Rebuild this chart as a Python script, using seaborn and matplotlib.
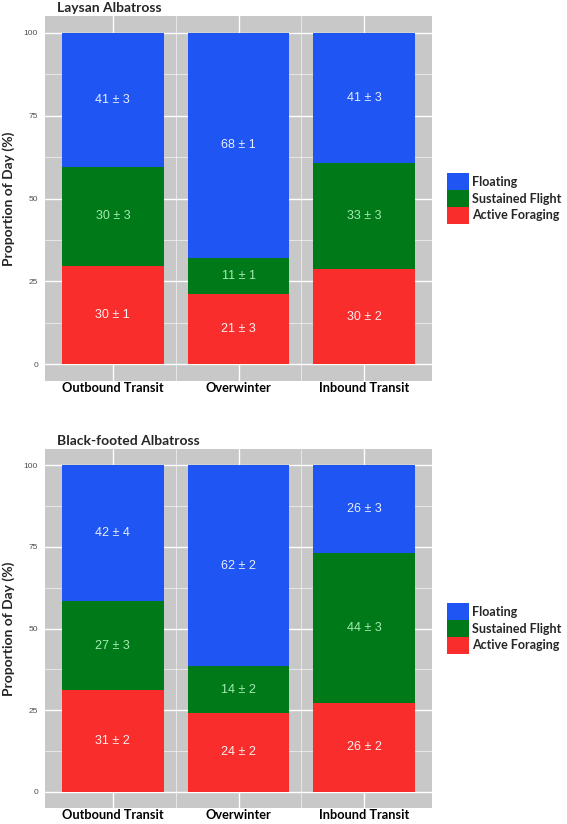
import matplotlib.pyplot as plt
import numpy as np
import pandas as pd
import seaborn as sns
from matplotlib.patches import Patch
from matplotlib.ticker import MultipleLocator

periods = ["Outbound Transit", "Overwinter", "Inbound Transit"]
behaviours = ["Floating", "Sustained Flight", "Active Foraging"]  # legend order (top of stack first)
colors = {"Floating": "#1f55f2", "Sustained Flight": "#007a18", "Active Foraging": "#fa2d2d"}
text_colors = {"Floating": "#e8eeff", "Sustained Flight": "#a6ebb4", "Active Foraging": "#fff0f0"}

# Laysan Albatross - bar heights (% of day) and printed mean ± se
laysan_floating = [40.4, 67.9, 39.3]
laysan_flight = [30.0, 11.0, 32.0]
laysan_foraging = [29.6, 21.1, 28.7]
laysan_floating_mean = [41, 68, 41]
laysan_floating_se = [3, 1, 3]
laysan_flight_mean = [30, 11, 33]
laysan_flight_se = [3, 1, 3]
laysan_foraging_mean = [30, 21, 30]
laysan_foraging_se = [1, 3, 2]

# Black-footed Albatross
bf_floating = [41.7, 61.6, 26.8]
bf_flight = [27.2, 14.2, 45.9]
bf_foraging = [31.1, 24.2, 27.3]
bf_floating_mean = [42, 62, 26]
bf_floating_se = [4, 2, 3]
bf_flight_mean = [27, 14, 44]
bf_flight_se = [3, 2, 3]
bf_foraging_mean = [31, 24, 26]
bf_foraging_se = [2, 2, 2]

sns.set_style("white")
plt.rcParams['font.family'] = ['Lato', 'DejaVu Sans']

W, H = 567, 824
fig = plt.figure(figsize=(W / 100, H / 100), dpi=100)
ax1 = fig.add_axes([45 / W, 1 - 381 / H, 387 / W, 365 / H])
ax2 = fig.add_axes([45 / W, 1 - 808 / H, 387 / W, 359 / H])


def make_frame(heights, means, ses):
    # stack from the bottom: foraging, flight, floating
    rows = []
    for beh in ["Active Foraging", "Sustained Flight", "Floating"]:
        for i, p in enumerate(periods):
            rows.append({"period": p, "behaviour": beh, "height": heights[beh][i],
                         "mean": means[beh][i], "se": ses[beh][i]})
    df = pd.DataFrame(rows)
    df["top"] = df.groupby("period")["height"].cumsum()
    df["bottom"] = df["top"] - df["height"]
    return df


def draw_panel(ax, title, df):
    ax.set_facecolor("#c8c8c8")
    ax.set_axisbelow(True)
    # draw cumulative tops, tallest first so the lower layers sit on top
    for beh in behaviours:
        sub = df[df["behaviour"] == beh]
        sns.barplot(data=sub, x="period", y="top", order=periods, color=colors[beh],
                    saturation=1, width=0.81, errorbar=None, linewidth=0, ax=ax)

    for _, r in df.iterrows():
        xi = periods.index(r["period"])
        ax.text(xi, r["bottom"] + r["height"] / 2, f"{r['mean']} ± {r['se']}",
                ha="center", va="center", fontsize=9, family="Liberation Sans",
                color=text_colors[r["behaviour"]])

    ax.set_xlim(-0.54, 2.54)
    ax.set_ylim(-5, 105)
    ax.yaxis.set_major_locator(MultipleLocator(25))
    ax.yaxis.set_minor_locator(MultipleLocator(12.5))
    ax.set_xticks([0.5, 1.5], minor=True)
    ax.grid(which="major", color="white", linewidth=1.0)
    ax.grid(which="minor", color="white", linewidth=0.5, alpha=0.8)
    for s in ax.spines.values():
        s.set_visible(False)
    ax.tick_params(which="both", length=0)
    ax.tick_params(axis="y", pad=5, labelsize=6, labelcolor="#4d4d4d")
    ax.tick_params(axis="x", pad=1)
    for lbl in ax.get_yticklabels():
        lbl.set_family("Liberation Sans")
    for lbl in ax.get_xticklabels():
        lbl.set_fontweight("bold")
        lbl.set_fontsize(9.2)
        lbl.set_color("black")
    ax.set_xlabel("")
    ax.set_ylabel("")
    ax.text(-0.094, 0.5, "Proportion of Day (%)", transform=ax.transAxes, rotation=90,
            ha="center", va="center", fontsize=10, fontweight="bold")
    ax.text(12 / 387, 1 + 4.5 / 365, title, transform=ax.transAxes, ha="left",
            va="baseline", fontsize=10, fontweight="bold")

    fs = 9 * 100 / 72
    handles = [Patch(facecolor=colors[b], linewidth=0, label=b) for b in behaviours]
    ax.legend(handles=handles, loc="center left", bbox_to_anchor=(402 / 387, 0.5),
              frameon=False, borderpad=0, borderaxespad=0, handlelength=22 / fs,
              handleheight=21 / fs, handletextpad=0.25, labelspacing=0,
              prop={"family": "Lato", "weight": "bold", "size": 9})


laysan = make_frame(
    {"Floating": laysan_floating, "Sustained Flight": laysan_flight, "Active Foraging": laysan_foraging},
    {"Floating": laysan_floating_mean, "Sustained Flight": laysan_flight_mean, "Active Foraging": laysan_foraging_mean},
    {"Floating": laysan_floating_se, "Sustained Flight": laysan_flight_se, "Active Foraging": laysan_foraging_se},
)
bfoot = make_frame(
    {"Floating": bf_floating, "Sustained Flight": bf_flight, "Active Foraging": bf_foraging},
    {"Floating": bf_floating_mean, "Sustained Flight": bf_flight_mean, "Active Foraging": bf_foraging_mean},
    {"Floating": bf_floating_se, "Sustained Flight": bf_flight_se, "Active Foraging": bf_foraging_se},
)

draw_panel(ax1, "Laysan Albatross", laysan)
draw_panel(ax2, "Black-footed Albatross", bfoot)

fig.savefig("out.png", dpi=100)
